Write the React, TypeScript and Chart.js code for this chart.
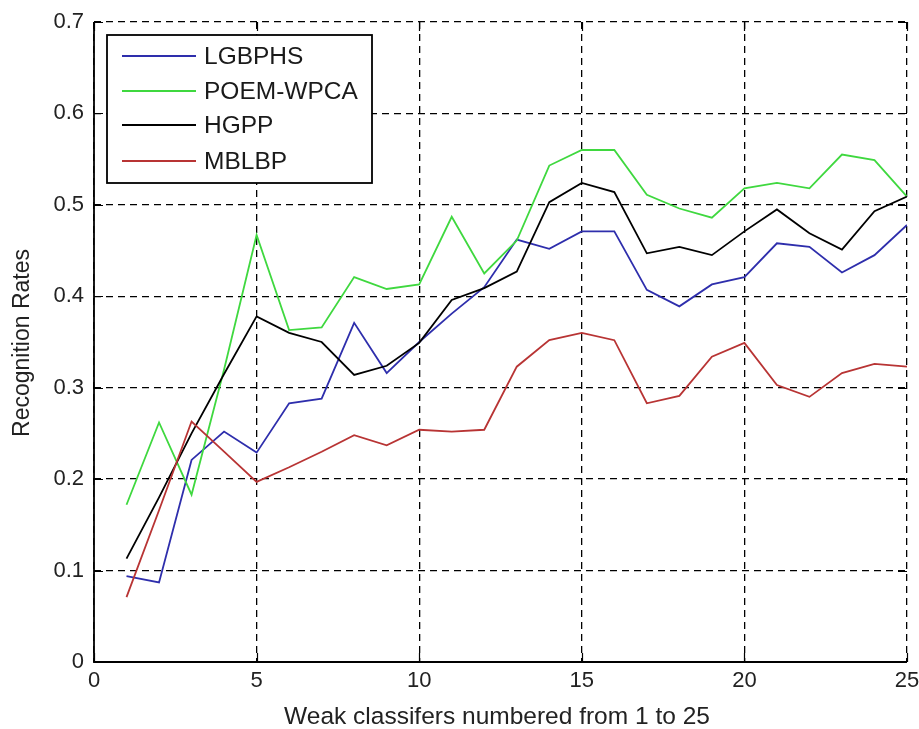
import React, { useEffect, useRef } from "react";
import { Chart, registerables } from "chart.js";

Chart.register(...registerables);

const classifiers = [1, 2, 3, 4, 5, 6, 7, 8, 9, 10, 11, 12, 13, 14, 15, 16, 17, 18, 19, 20, 21, 22, 23, 24, 25];
const lgbphs = [0.094, 0.087, 0.221, 0.252, 0.229, 0.283, 0.288, 0.371, 0.316, 0.350, 0.381, 0.410, 0.462, 0.452, 0.471, 0.471, 0.407, 0.389, 0.413, 0.421, 0.458, 0.454, 0.426, 0.445, 0.478];
const poemWpca = [0.172, 0.262, 0.183, 0.32, 0.467, 0.363, 0.366, 0.421, 0.408, 0.413, 0.487, 0.425, 0.461, 0.543, 0.560, 0.560, 0.511, 0.496, 0.486, 0.518, 0.524, 0.518, 0.555, 0.549, 0.509];
const hgpp = [0.113, 0.18, 0.25, 0.315, 0.378, 0.36, 0.35, 0.314, 0.324, 0.349, 0.396, 0.409, 0.427, 0.503, 0.524, 0.514, 0.447, 0.454, 0.445, 0.471, 0.495, 0.469, 0.451, 0.493, 0.509];
const mblbp = [0.071, 0.166, 0.263, 0.23, 0.197, 0.213, 0.23, 0.248, 0.237, 0.254, 0.252, 0.254, 0.323, 0.352, 0.360, 0.352, 0.283, 0.291, 0.334, 0.349, 0.303, 0.290, 0.316, 0.326, 0.323];
const seriesNames = ["LGBPHS", "POEM-WPCA", "HGPP", "MBLBP"];
const seriesColors = ["#2e2eac", "#3fd83f", "#000000", "#b83434"];
const xTitle = "Weak classifers numbered from 1 to 25";
const yTitle = "Recognition Rates";

const FONT = '"Liberation Sans", Arial, sans-serif';

const decorPlugin = {
  id: "decor",
  afterDraw(chart: any) {
    const ctx = chart.ctx;
    const { left, right, top, bottom } = chart.chartArea;
    const xs = chart.scales.x;
    const ys = chart.scales.y;
    ctx.save();
    // inward ticks
    ctx.strokeStyle = "#000";
    ctx.lineWidth = 1.2;
    ctx.setLineDash([]);
    const tl = 9;
    xs.ticks.forEach((t: any) => {
      const px = Math.round(xs.getPixelForValue(t.value)) + 0.5;
      ctx.beginPath();
      ctx.moveTo(px, bottom);
      ctx.lineTo(px, bottom - tl);
      ctx.moveTo(px, top);
      ctx.lineTo(px, top + tl);
      ctx.stroke();
    });
    ys.ticks.forEach((t: any) => {
      const py = Math.round(ys.getPixelForValue(t.value)) + 0.5;
      ctx.beginPath();
      ctx.moveTo(left, py);
      ctx.lineTo(left + tl, py);
      ctx.moveTo(right, py);
      ctx.lineTo(right - tl, py);
      ctx.stroke();
    });
    // axis lines
    ctx.lineWidth = 1.8;
    ctx.beginPath();
    ctx.moveTo(left, top);
    ctx.lineTo(left, bottom);
    ctx.lineTo(right, bottom);
    ctx.stroke();

    // legend
    const lx = 107, ly = 35, lw = 265, lh = 148;
    ctx.fillStyle = "#fff";
    ctx.fillRect(lx, ly, lw, lh);
    ctx.lineWidth = 1.8;
    ctx.strokeStyle = "#000";
    ctx.strokeRect(lx, ly, lw, lh);
    const rows = [56, 91, 125, 161];
    ctx.font = "24.5px " + FONT;
    ctx.textBaseline = "middle";
    ctx.textAlign = "left";
    seriesNames.forEach((name, i) => {
      ctx.strokeStyle = seriesColors[i];
      ctx.lineWidth = 1.8;
      ctx.beginPath();
      ctx.moveTo(122, rows[i]);
      ctx.lineTo(196, rows[i]);
      ctx.stroke();
      ctx.fillStyle = "#1a1a1a";
      ctx.fillText(name, 204, rows[i] + 1);
    });

    // titles
    ctx.fillStyle = "#222";
    ctx.textAlign = "center";
    ctx.textBaseline = "middle";
    ctx.font = "24.5px " + FONT;
    ctx.fillText(xTitle, 497, 717);
    ctx.font = "23px " + FONT;
    ctx.save();
    ctx.translate(23, 343);
    ctx.rotate(-Math.PI / 2);
    ctx.fillText(yTitle, 0, 0);
    ctx.restore();
    ctx.restore();
  },
};

export default function App() {
  const ref = useRef<HTMLCanvasElement | null>(null);
  useEffect(() => {
    if (!ref.current) return;
    const all = [lgbphs, poemWpca, hgpp, mblbp];
    const chart = new Chart(ref.current, {
      type: "line",
      data: {
        datasets: all.map((vals, i) => ({
          label: seriesNames[i],
          data: classifiers.map((x, j) => ({ x, y: vals[j] })),
          borderColor: seriesColors[i],
          borderWidth: 1.8,
          pointRadius: 0,
          tension: 0,
          fill: false,
          order: 4 - i,
        })),
      },
      options: {
        animation: false,
        responsive: false,
        maintainAspectRatio: false,
        layout: { padding: { left: 0, right: 12, top: 22, bottom: 0 } },
        plugins: { legend: { display: false }, tooltip: { enabled: false } },
        scales: {
          x: {
            type: "linear",
            min: 0,
            max: 25,
            ticks: { stepSize: 5, color: "#222", font: { size: 22, family: FONT }, padding: 6 },
            grid: { color: "#000", lineWidth: 1.3, drawTicks: false },
            border: { display: false, dash: [7, 5] },
            afterFit: (s: any) => { s.height = 67; s.paddingLeft = 0; s.paddingRight = 0; },
          },
          y: {
            min: 0,
            max: 0.7,
            ticks: { stepSize: 0.1, color: "#222", font: { size: 22, family: FONT }, padding: 10,
              callback: (v: any) => (Math.round(v * 10) / 10).toString() },
            grid: { color: "#000", lineWidth: 1.3, drawTicks: false },
            border: { display: false, dash: [7, 5] },
            afterFit: (s: any) => { s.width = 94; s.paddingTop = 0; s.paddingBottom = 0; },
          },
        },
      },
      plugins: [decorPlugin],
    } as any);
    return () => chart.destroy();
  }, []);
  return (
    <div style={{ position: "fixed", left: 0, top: 0, width: 919, height: 729, background: "#fff" }}>
      <canvas ref={ref} width={919} height={729} style={{ width: 919, height: 729 }} />
    </div>
  );
}
